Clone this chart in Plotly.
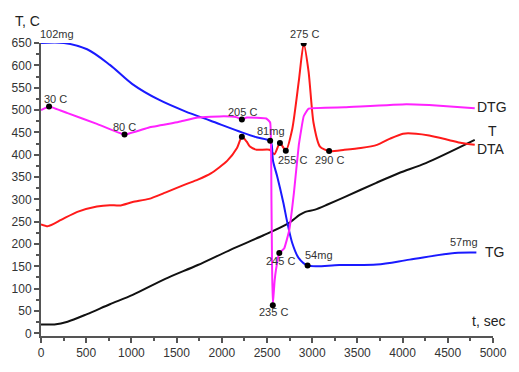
import plotly.graph_objects as go

# TG (blue)
tg_t = [0, 254, 510, 762, 1011, 1303, 1595, 1876, 2222, 2384, 2535, 2552, 2566, 2613, 2679, 2726, 2781, 2849, 2949, 3300, 3714, 4078, 4578, 4816]
tg_v = [650, 650, 636, 601, 558, 523, 497, 476, 450, 439, 431, 422, 387, 351, 294, 247, 201, 169, 152, 153, 154, 165, 180, 181]

# DTG (magenta)
dtg_t = [0, 89, 294, 618, 924, 1195, 1519, 1735, 2024, 2160, 2222, 2276, 2492, 2535, 2549, 2556, 2564, 2584, 2600, 2636, 2690, 2744, 2798, 2852, 2906, 2960, 3357, 4041, 4294, 4798]
dtg_v = [500, 508, 493, 469, 445, 461, 473, 483, 486, 484, 479, 483, 481, 472, 300, 150, 63, 117, 143, 180, 190, 229, 315, 422, 486, 503, 506, 513, 511, 504]

# DTA (red)
dta_t = [0, 78, 222, 402, 618, 762, 870, 1014, 1195, 1375, 1591, 1735, 1879, 2059, 2168, 2222, 2276, 2311, 2384, 2528, 2582, 2643, 2708, 2780, 2852, 2906, 2960, 3014, 3086, 3187, 3357, 3537, 3717, 3862, 4005, 4149, 4294, 4510, 4654, 4798]
dta_v = [244, 240, 254, 272, 284, 287, 286, 294, 301, 315, 333, 344, 358, 386, 415, 440, 429, 418, 411, 411, 401, 426, 409, 458, 565, 649, 586, 472, 418, 408, 411, 415, 422, 436, 447, 447, 443, 433, 426, 422]

# T (black)
temp_t = [0, 149, 294, 510, 762, 1014, 1375, 1735, 2095, 2456, 2726, 2860, 2924, 3032, 3176, 3357, 3709, 3962, 4257, 4798]
temp_v = [20, 20, 26, 43, 65, 86, 122, 153, 187, 219, 245, 265, 272, 277, 289, 305, 337, 359, 381, 433]

# marked points
pt_t = [89, 924, 2222, 2222, 2535, 2643, 2708, 2906, 3187, 2564, 2636, 2949]
pt_v = [508, 445, 479, 440, 431, 426, 409, 649, 408, 63, 180, 152]

# labels
lab_text = ["30 C", "80 C", "205 C", "81mg", "255 C", "290 C", "245 C", "235 C", "54mg", "57mg"]
lab_t = [156, 922, 2233, 2541, 2778, 3188, 2649, 2573, 3070, 4683]
lab_v = [524, 463, 495, 452, 388, 388, 161, 47, 175, 204]

top_text = ["102mg", "275 C"]
top_t = [178, 2919]

curve_names = ["DTG", "T", "DTA", "TG"]
curve_name_t = [4805, 4925, 4805, 4890]
curve_name_v = [506, 452, 412, 182]

FONT = "Liberation Sans, Arial, sans-serif"
fig = go.Figure()
fig.add_trace(go.Scatter(x=temp_t, y=temp_v, mode="lines", line=dict(color="#111111", width=2, shape="spline", smoothing=0.8)))
fig.add_trace(go.Scatter(x=dta_t, y=dta_v, mode="lines", line=dict(color="#ff1a1a", width=2, shape="spline", smoothing=0.6)))
fig.add_trace(go.Scatter(x=tg_t, y=tg_v, mode="lines", line=dict(color="#1a1aff", width=2, shape="spline", smoothing=0.9)))
fig.add_trace(go.Scatter(x=dtg_t, y=dtg_v, mode="lines", line=dict(color="#ff22ff", width=2, shape="spline", smoothing=0.3)))
fig.add_trace(go.Scatter(x=pt_t, y=pt_v, mode="markers", marker=dict(color="black", size=6)))

for txt, x, y in zip(lab_text, lab_t, lab_v):
    fig.add_annotation(x=x, y=y, text=txt, showarrow=False, font=dict(family=FONT, size=11, color="#333333"))
for txt, x in zip(top_text, top_t):
    fig.add_annotation(x=x, y=1.03, yref="paper", yanchor="middle", xanchor="center", text=txt, showarrow=False,
                       font=dict(family=FONT, size=11, color="#333333"))
for txt, x, y in zip(curve_names, curve_name_t, curve_name_v):
    fig.add_annotation(x=x, y=y, text=txt, showarrow=False, xanchor="left", font=dict(family=FONT, size=14, color="#222222"))
fig.add_annotation(x=4955, y=28, text="t, sec", showarrow=False, font=dict(family=FONT, size=14, color="#222222"))
fig.add_annotation(x=-0.03, y=1.075, xref="paper", yref="paper", xanchor="center", yanchor="middle", text="T, C",
                   showarrow=False, font=dict(family=FONT, size=14, color="#222222"))

axis_common = dict(showline=True, linecolor="#555555", linewidth=2, ticks="outside", tickcolor="#555555",
                   tickwidth=2, ticklen=5, showgrid=False, zeroline=False,
                   tickfont=dict(family=FONT, size=12, color="#333333"))
fig.update_xaxes(range=[0, 5000], dtick=500, tick0=0,
                 minor=dict(dtick=250, ticks="outside", ticklen=3, tickcolor="#555555", tickwidth=2), **axis_common)
fig.update_yaxes(range=[-6, 650], dtick=50, tick0=0,
                 minor=dict(dtick=25, ticks="outside", ticklen=3, tickcolor="#555555", tickwidth=2), **axis_common)
fig.update_layout(width=519, height=372, margin=dict(l=40, r=17, t=43, b=21),
                  plot_bgcolor="white", paper_bgcolor="white", showlegend=False)
fig.write_html("out.html")
